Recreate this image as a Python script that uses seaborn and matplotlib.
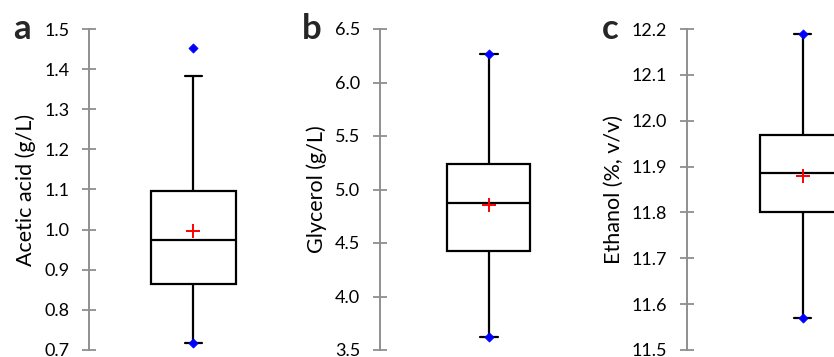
import numpy as np
import pandas as pd
import matplotlib
matplotlib.use("Agg")
import matplotlib.pyplot as plt
import seaborn as sns

# Summary statistics of the three wine parameters
panel_letters = ["a", "b", "c"]
y_labels = ["Acetic acid (g/L)", "Glycerol (g/L)", "Ethanol (%, v/v)"]
whisker_low = [0.718, 3.620, 11.569]
quartile_1 = [0.864, 4.428, 11.802]
medians = [0.975, 4.878, 11.885]
quartile_3 = [1.097, 5.235, 11.968]
whisker_high = [1.383, 6.263, 12.190]
means = [0.996, 4.855, 11.879]
minimums = [0.718, 3.620, 11.569]
maximums = [1.453, 6.263, 12.190]
y_limits = [(0.7, 1.5), (3.5, 6.5), (11.5, 12.2)]
y_ticks = [
    [0.7, 0.8, 0.9, 1.0, 1.1, 1.2, 1.3, 1.4, 1.5],
    [3.5, 4.0, 4.5, 5.0, 5.5, 6.0, 6.5],
    [11.5, 11.6, 11.7, 11.8, 11.9, 12.0, 12.1, 12.2],
]

# Layout (pixels): axis spine x, axes width, box width, cap width, letter x
FIG_W, FIG_H = 834, 357
AX_BOTTOM_PX, AX_TOP_PX = 350, 29
layout = [
    dict(spine=89, width=208, box=85, cap=17, letter=13),
    dict(spine=380, width=217, box=83, cap=18, letter=302),
    dict(spine=687, width=231, box=85, cap=17, letter=602),
]

sns.set_style("white")
plt.rcParams["font.family"] = ["Lato", "DejaVu Sans"]

fig = plt.figure(figsize=(FIG_W / 100, FIG_H / 100), dpi=100)
grey = "#8f8f8f"

for i in range(3):
    lay = layout[i]
    ax = fig.add_axes([
        lay["spine"] / FIG_W,
        1 - AX_BOTTOM_PX / FIG_H,
        lay["width"] / FIG_W,
        (AX_BOTTOM_PX - AX_TOP_PX) / FIG_H,
    ])
    box_values = pd.DataFrame({
        "value": [whisker_low[i], quartile_1[i], medians[i],
                  quartile_3[i], whisker_high[i]]
    })
    sns.boxplot(
        data=box_values, y="value", ax=ax,
        width=lay["box"] / lay["width"],
        capwidths=lay["cap"] / lay["width"],
        color="white", linecolor="black", linewidth=1.6,
        showfliers=False, whis=1.5,
    )
    sns.scatterplot(x=[0], y=[means[i]], ax=ax, marker="+", s=110,
                    color="red", linewidth=1.4, zorder=6)
    sns.scatterplot(x=[0, 0], y=[minimums[i], maximums[i]], ax=ax,
                    marker="D", s=22, color="blue", edgecolor="blue",
                    linewidth=0.5, zorder=7)

    ax.set_xlim(-0.5, 0.5)
    ax.set_ylim(*y_limits[i])
    ax.set_yticks(y_ticks[i])
    ax.set_yticklabels([f"{t:.1f}" for t in y_ticks[i]])
    ax.set_xticks([])
    ax.set_xlabel("")
    ax.set_ylabel(y_labels[i], fontsize=15.5, labelpad=6, color="black")
    for side in ["top", "right", "bottom"]:
        ax.spines[side].set_visible(False)
    ax.spines["left"].set_color(grey)
    ax.spines["left"].set_linewidth(1.4)
    ax.tick_params(axis="y", direction="inout", length=9.5, width=1.3,
                   color=grey, labelcolor="black", labelsize=13, pad=9.5,
                   left=True)
    ax.set_facecolor("none")

    fig.text(lay["letter"] / FIG_W, 1 - 39 / FIG_H, panel_letters[i],
             fontsize=25, fontweight="bold", ha="left", va="baseline")

fig.savefig("out.png", dpi=100)
